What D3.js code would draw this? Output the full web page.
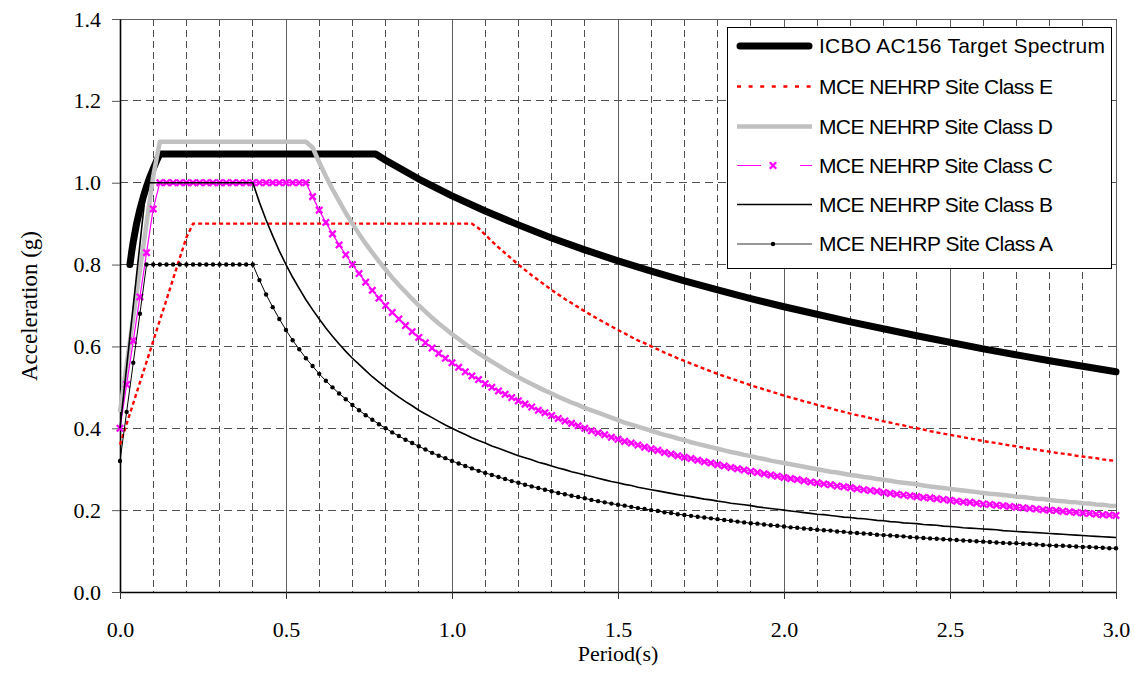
<!DOCTYPE html>
<html><head><meta charset="utf-8">
<script src="https://cdn.jsdelivr.net/npm/d3@7"></script>
<style>body{margin:0;background:#fff;} svg{display:block;}</style>
</head><body>
<script>
// ---------- DATA ----------
const periods = [
0.00,0.02,0.04,0.06,0.08,0.10,0.12,0.14,0.16,0.18,
0.20,0.22,0.24,0.26,0.28,0.30,0.32,0.34,0.36,0.38,
0.40,0.42,0.44,0.46,0.48,0.50,0.52,0.54,0.56,0.58,
0.60,0.62,0.64,0.66,0.68,0.70,0.72,0.74,0.76,0.78,
0.80,0.82,0.84,0.86,0.88,0.90,0.92,0.94,0.96,0.98,
1.00,1.02,1.04,1.06,1.08,1.10,1.12,1.14,1.16,1.18,
1.20,1.22,1.24,1.26,1.28,1.30,1.32,1.34,1.36,1.38,
1.40,1.42,1.44,1.46,1.48,1.50,1.52,1.54,1.56,1.58,
1.60,1.62,1.64,1.66,1.68,1.70,1.72,1.74,1.76,1.78,
1.80,1.82,1.84,1.86,1.88,1.90,1.92,1.94,1.96,1.98,
2.00,2.02,2.04,2.06,2.08,2.10,2.12,2.14,2.16,2.18,
2.20,2.22,2.24,2.26,2.28,2.30,2.32,2.34,2.36,2.38,
2.40,2.42,2.44,2.46,2.48,2.50,2.52,2.54,2.56,2.58,
2.60,2.62,2.64,2.66,2.68,2.70,2.72,2.74,2.76,2.78,
2.80,2.82,2.84,2.86,2.88,2.90,2.92,2.94,2.96,2.98,
3.00];

const siteE = [
0.36,0.411,0.461,0.512,0.562,0.613,0.664,0.714,0.765,0.816,
0.866,0.90,0.90,0.90,0.90,0.90,0.90,0.90,0.90,0.90,
0.90,0.90,0.90,0.90,0.90,0.90,0.90,0.90,0.90,0.90,
0.90,0.90,0.90,0.90,0.90,0.90,0.90,0.90,0.90,0.90,
0.90,0.90,0.90,0.90,0.90,0.90,0.90,0.90,0.90,0.90,
0.90,0.90,0.90,0.90,0.889,0.873,0.857,0.842,0.828,0.814,
0.800,0.787,0.774,0.762,0.750,0.738,0.727,0.716,0.706,0.696,
0.686,0.676,0.667,0.658,0.649,0.640,0.632,0.623,0.615,0.608,
0.600,0.593,0.585,0.578,0.571,0.565,0.558,0.552,0.545,0.539,
0.533,0.527,0.522,0.516,0.511,0.505,0.500,0.495,0.490,0.485,
0.480,0.475,0.471,0.466,0.462,0.457,0.453,0.449,0.444,0.440,
0.436,0.432,0.429,0.425,0.421,0.417,0.414,0.410,0.407,0.403,
0.400,0.397,0.393,0.390,0.387,0.384,0.381,0.378,0.375,0.372,
0.369,0.366,0.364,0.361,0.358,0.356,0.353,0.350,0.348,0.345,
0.343,0.340,0.338,0.336,0.333,0.331,0.329,0.327,0.324,0.322,
0.320];

const siteD = [
0.44,0.555,0.671,0.786,0.901,1.016,1.10,1.10,1.10,1.10,
1.10,1.10,1.10,1.10,1.10,1.10,1.10,1.10,1.10,1.10,
1.10,1.10,1.10,1.10,1.10,1.10,1.10,1.10,1.10,1.086,
1.050,1.016,0.984,0.955,0.926,0.900,0.875,0.851,0.829,0.808,
0.788,0.768,0.750,0.733,0.716,0.700,0.685,0.670,0.656,0.643,
0.630,0.618,0.606,0.594,0.583,0.573,0.563,0.553,0.543,0.534,
0.525,0.516,0.508,0.500,0.492,0.485,0.477,0.470,0.463,0.457,
0.450,0.444,0.438,0.432,0.426,0.420,0.414,0.409,0.404,0.399,
0.394,0.389,0.384,0.380,0.375,0.371,0.366,0.362,0.358,0.354,
0.350,0.346,0.342,0.339,0.335,0.332,0.328,0.325,0.321,0.318,
0.315,0.312,0.309,0.306,0.303,0.300,0.297,0.294,0.292,0.289,
0.286,0.284,0.281,0.279,0.276,0.274,0.272,0.269,0.267,0.265,
0.263,0.260,0.258,0.256,0.254,0.252,0.250,0.248,0.246,0.244,
0.242,0.240,0.239,0.237,0.235,0.233,0.232,0.230,0.228,0.227,
0.225,0.223,0.222,0.220,0.219,0.217,0.216,0.214,0.213,0.211,
0.210];

const siteC = [
0.40,0.507,0.614,0.721,0.829,0.936,1.00,1.00,1.00,1.00,
1.00,1.00,1.00,1.00,1.00,1.00,1.00,1.00,1.00,1.00,
1.00,1.00,1.00,1.00,1.00,1.00,1.00,1.00,1.00,0.966,
0.933,0.903,0.875,0.848,0.824,0.800,0.778,0.757,0.737,0.718,
0.700,0.683,0.667,0.651,0.636,0.622,0.609,0.596,0.583,0.571,
0.560,0.549,0.538,0.528,0.519,0.509,0.500,0.491,0.483,0.475,
0.467,0.459,0.452,0.444,0.438,0.431,0.424,0.418,0.412,0.406,
0.400,0.394,0.389,0.384,0.378,0.373,0.368,0.364,0.359,0.354,
0.350,0.346,0.341,0.337,0.333,0.329,0.326,0.322,0.318,0.315,
0.311,0.308,0.304,0.301,0.298,0.295,0.292,0.289,0.286,0.283,
0.280,0.277,0.275,0.272,0.269,0.267,0.264,0.262,0.259,0.257,
0.255,0.252,0.250,0.248,0.246,0.243,0.241,0.239,0.237,0.235,
0.233,0.231,0.230,0.228,0.226,0.224,0.222,0.220,0.219,0.217,
0.215,0.214,0.212,0.211,0.209,0.207,0.206,0.204,0.203,0.201,
0.200,0.199,0.197,0.196,0.194,0.193,0.192,0.190,0.189,0.188,
0.187];

const siteB = [
0.40,0.55,0.70,0.85,1.00,1.00,1.00,1.00,1.00,1.00,
1.00,1.00,1.00,1.00,1.00,1.00,1.00,1.00,1.00,1.00,
1.00,0.952,0.909,0.870,0.833,0.800,0.769,0.741,0.714,0.690,
0.667,0.645,0.625,0.606,0.588,0.571,0.556,0.541,0.526,0.513,
0.500,0.488,0.476,0.465,0.455,0.444,0.435,0.426,0.417,0.408,
0.400,0.392,0.385,0.377,0.370,0.364,0.357,0.351,0.345,0.339,
0.333,0.328,0.323,0.317,0.313,0.308,0.303,0.299,0.294,0.290,
0.286,0.282,0.278,0.274,0.270,0.267,0.263,0.260,0.256,0.253,
0.250,0.247,0.244,0.241,0.238,0.235,0.233,0.230,0.227,0.225,
0.222,0.220,0.217,0.215,0.213,0.211,0.208,0.206,0.204,0.202,
0.200,0.198,0.196,0.194,0.192,0.190,0.189,0.187,0.185,0.183,
0.182,0.180,0.179,0.177,0.175,0.174,0.172,0.171,0.169,0.168,
0.167,0.165,0.164,0.163,0.161,0.160,0.159,0.157,0.156,0.155,
0.154,0.153,0.152,0.150,0.149,0.148,0.147,0.146,0.145,0.144,
0.143,0.142,0.141,0.140,0.139,0.138,0.137,0.136,0.135,0.134,
0.133];

const siteA = [
0.32,0.44,0.56,0.68,0.80,0.80,0.80,0.80,0.80,0.80,
0.80,0.80,0.80,0.80,0.80,0.80,0.80,0.80,0.80,0.80,
0.80,0.762,0.727,0.696,0.667,0.640,0.615,0.593,0.571,0.552,
0.533,0.516,0.500,0.485,0.471,0.457,0.444,0.432,0.421,0.410,
0.400,0.390,0.381,0.372,0.364,0.356,0.348,0.340,0.333,0.327,
0.320,0.314,0.308,0.302,0.296,0.291,0.286,0.281,0.276,0.271,
0.267,0.262,0.258,0.254,0.250,0.246,0.242,0.239,0.235,0.232,
0.229,0.225,0.222,0.219,0.216,0.213,0.211,0.208,0.205,0.203,
0.200,0.198,0.195,0.193,0.190,0.188,0.186,0.184,0.182,0.180,
0.178,0.176,0.174,0.172,0.170,0.168,0.167,0.165,0.163,0.162,
0.160,0.158,0.157,0.155,0.154,0.152,0.151,0.150,0.148,0.147,
0.145,0.144,0.143,0.142,0.140,0.139,0.138,0.137,0.136,0.134,
0.133,0.132,0.131,0.130,0.129,0.128,0.127,0.126,0.125,0.124,
0.123,0.122,0.121,0.120,0.119,0.119,0.118,0.117,0.116,0.115,
0.114,0.113,0.113,0.112,0.111,0.110,0.110,0.109,0.108,0.107,
0.107];

const icboPeriods = [0.03,0.035,0.04,0.05,0.06,0.07,0.08,0.09,0.10,0.11,0.12,
  0.77,0.80,0.90,1.0,1.1,1.2,1.3,1.4,1.5,1.6,1.7,1.8,1.9,2.0,2.2,2.4,2.6,2.8,3.0];
const icboValues = [0.800,0.830,0.856,0.900,0.935,0.965,0.991,1.014,1.034,1.053,1.07,
  1.07,1.055,1.009,0.968,0.931,0.897,0.865,0.836,0.809,0.784,0.760,0.738,0.717,0.697,0.660,0.626,0.594,0.565,0.538];

const xTicks = [0.0,0.5,1.0,1.5,2.0,2.5,3.0];
const yTicks = [0.0,0.2,0.4,0.6,0.8,1.0,1.2,1.4];
const legendLabels = ["ICBO AC156 Target Spectrum","MCE NEHRP Site Class E","MCE NEHRP Site Class D",
  "MCE NEHRP Site Class C","MCE NEHRP Site Class B","MCE NEHRP Site Class A"];
const xTitle = "Period(s)";
const yTitle = "Acceleration (g)";

// ---------- CHART ----------
const W = 1135, H = 690;
const svg = d3.select("body").append("svg").attr("width", W).attr("height", H);
const x = d3.scaleLinear().domain([0, 3]).range([120, 1116]);
const y = d3.scaleLinear().domain([0, 1.4]).range([592, 19]);

const serif = "'Liberation Serif','Times New Roman',serif";
const sans = "'Liberation Sans',Arial,sans-serif";
const gridColor = "#505050";

// grid
const g = svg.append("g");
const vTicks = x.ticks(30);
g.selectAll("line.v").data(vTicks.filter(t => t > 0)).join("line")
  .attr("x1", d => x(d)).attr("x2", d => x(d)).attr("y1", y(1.4)).attr("y2", y(0))
  .attr("stroke", d => Math.round(d * 10) % 5 === 0 ? "#606060" : gridColor)
  .attr("stroke-width", 1)
  .attr("stroke-dasharray", d => Math.round(d * 10) % 5 === 0 ? null : "7,4")
  .attr("shape-rendering", "crispEdges");
g.selectAll("line.h").data(yTicks.filter(t => t > 0)).join("line")
  .attr("x1", x(0)).attr("x2", x(3)).attr("y1", d => y(d)).attr("y2", d => y(d))
  .attr("stroke", d => d >= 1.4 ? "#606060" : gridColor)
  .attr("stroke-width", 1)
  .attr("stroke-dasharray", d => d >= 1.4 ? null : "8,5")
  .attr("shape-rendering", "crispEdges");

// axes
const yAxis = svg.append("g").attr("transform", `translate(${x(0)},0)`)
  .call(d3.axisLeft(y).tickValues(yTicks).tickSize(8).tickSizeOuter(0).tickPadding(11).tickFormat(d3.format(".1f")));
const xAxis = svg.append("g").attr("transform", `translate(0,${y(0)})`)
  .call(d3.axisBottom(x).tickValues(xTicks).tickSize(7).tickSizeOuter(0).tickPadding(22).tickFormat(d3.format(".1f")));
[yAxis, xAxis].forEach(a => {
  a.select(".domain").attr("stroke", "#000").attr("stroke-width", 1.6);
  a.selectAll(".tick line").attr("stroke", "#333").attr("stroke-width", 1);
  a.selectAll("text").attr("font-family", serif).attr("font-size", 22).attr("fill", "#000");
});
yAxis.selectAll(".tick line").attr("stroke", "#555");

svg.append("text").attr("x", 618).attr("y", 661).attr("text-anchor", "middle")
  .attr("font-family", serif).attr("font-size", 22).text(xTitle);
svg.append("text").attr("transform", "translate(37,306) rotate(-90)").attr("text-anchor", "middle")
  .attr("font-family", serif).attr("font-size", 23).text(yTitle);

// series
const line = d3.line().x(d => x(d[0])).y(d => y(d[1]));
const zip = (xs, ys) => xs.map((t, i) => [t, ys[i]]);

const dIcbo = zip(icboPeriods, icboValues);
const dE = zip(periods, siteE), dD = zip(periods, siteD), dC = zip(periods, siteC),
      dB = zip(periods, siteB), dA = zip(periods, siteA);

const plot = svg.append("g");
plot.append("path").datum(dIcbo).attr("d", line).attr("fill", "none").attr("stroke", "#000")
  .attr("stroke-width", 7).attr("stroke-linejoin", "round").attr("stroke-linecap", "round");
plot.append("path").datum(dE).attr("d", line).attr("fill", "none").attr("stroke", "#ff0000")
  .attr("stroke-width", 2.4).attr("stroke-dasharray", "4,3");
plot.append("path").datum(dD).attr("d", line).attr("fill", "none").attr("stroke", "#c0c0c0")
  .attr("stroke-width", 4.5).attr("stroke-linejoin", "round");
plot.append("path").datum(dC).attr("d", line).attr("fill", "none").attr("stroke", "#ff00ff")
  .attr("stroke-width", 1.2);
const xMark = "M-3.2,-3.2L3.2,3.2M-3.2,3.2L3.2,-3.2";
plot.append("g").selectAll("path").data(dC).join("path")
  .attr("transform", d => `translate(${x(d[0])},${y(d[1])})`)
  .attr("d", xMark).attr("stroke", "#ff00ff").attr("stroke-width", 2.3).attr("fill", "none");
plot.append("path").datum(dB).attr("d", line).attr("fill", "none").attr("stroke", "#000")
  .attr("stroke-width", 1.6);
plot.append("path").datum(dA).attr("d", line).attr("fill", "none").attr("stroke", "#000")
  .attr("stroke-width", 1);
plot.append("g").selectAll("circle").data(dA).join("circle")
  .attr("cx", d => x(d[0])).attr("cy", d => y(d[1])).attr("r", 2.2).attr("fill", "#000");

// legend
const lg = svg.append("g");
lg.append("rect").attr("x", 727.5).attr("y", 27.5).attr("width", 384).attr("height", 241)
  .attr("fill", "#fff").attr("stroke", "#000").attr("stroke-width", 1);
const rowY = [46, 86.5, 126.5, 165.5, 204.5, 244];
const textLen = [286, 234, 234, 234, 234, 234];
const lx1 = 737, lx2 = 812, lxm = 773;
const styles = [
  {stroke: "#000", w: 7, cap: "round"},
  {stroke: "#ff0000", w: 2.4, dash: "4,7.6"},
  {stroke: "#c0c0c0", w: 4.5},
  {stroke: "#ff00ff", w: 1.2, dash: "24,39", marker: "x"},
  {stroke: "#000", w: 1.6},
  {stroke: "#333", w: 1, marker: "dot"}
];
legendLabels.forEach((lab, i) => {
  const s = styles[i], yy = rowY[i];
  lg.append("line").attr("x1", lx1 + (s.cap ? 3 : 0)).attr("x2", lx2 - (s.cap ? 3 : 0))
    .attr("y1", yy).attr("y2", yy)
    .attr("stroke", s.stroke).attr("stroke-width", s.w)
    .attr("stroke-linecap", s.cap || "butt").attr("stroke-dasharray", s.dash || null);
  if (s.marker === "x") lg.append("path").attr("transform", `translate(${lxm},${yy})`)
    .attr("d", xMark).attr("stroke", "#ff00ff").attr("stroke-width", 2.3);
  if (s.marker === "dot") lg.append("circle").attr("cx", lxm).attr("cy", yy).attr("r", 2.2).attr("fill", "#000");
  lg.append("text").attr("x", 819).attr("y", yy).attr("dy", "0.35em")
    .attr("font-family", sans).attr("font-size", 21).attr("fill", "#000")
    .attr("textLength", textLen[i]).attr("lengthAdjust", "spacing").text(lab);
});
</script>
</body></html>
